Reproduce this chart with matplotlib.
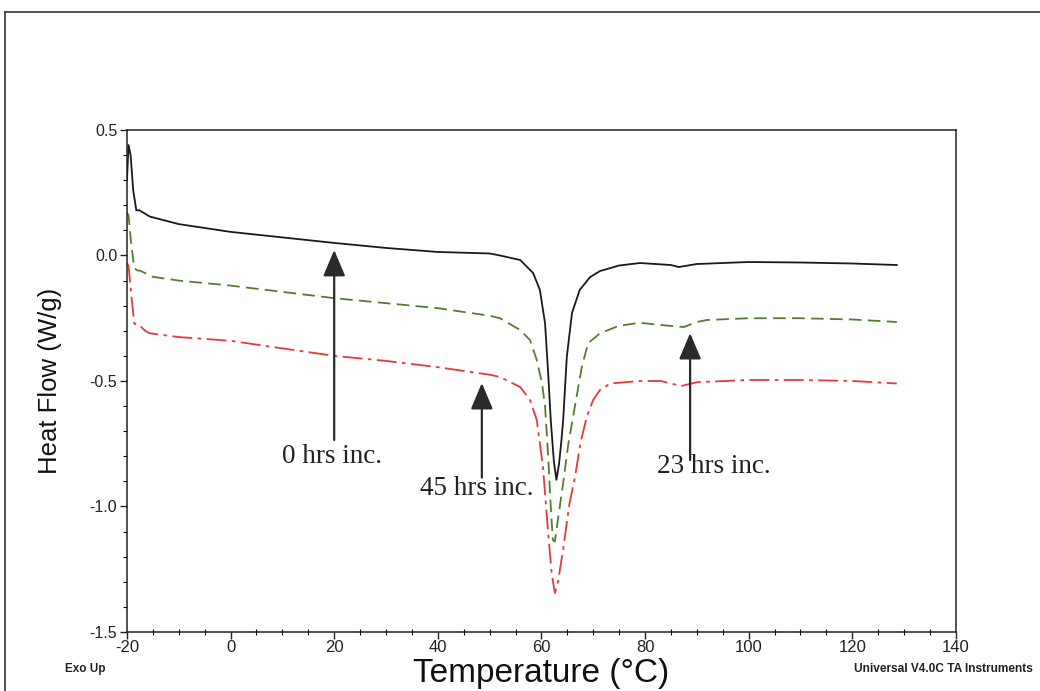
import numpy as np
import matplotlib
matplotlib.use("Agg")
import matplotlib.pyplot as plt
from matplotlib.lines import Line2D
from matplotlib.ticker import MultipleLocator

# ======= data =======
temp_0h = [-20, -19.7, -19.3, -18.8, -18.2, -17.6, -16.8, -15.6, -10, 0, 10, 20, 30, 40, 50, 52, 55.9,
           58.4, 59.7, 60.7, 61.3, 61.8, 62.4, 62.9, 63.4, 63.8, 64.2, 64.9, 65.9, 67.4, 69.4, 71.3, 75,
           79, 85, 86.5, 90, 100, 110, 120, 128.6]
hf_0h = [0.30, 0.44, 0.40, 0.26, 0.18, 0.18, 0.17, 0.155, 0.125, 0.094, 0.072, 0.05, 0.03, 0.014, 0.008,
         0.0, -0.018, -0.07, -0.137, -0.27, -0.468, -0.655, -0.82, -0.894, -0.83, -0.75, -0.655, -0.404,
         -0.229, -0.137, -0.086, -0.062, -0.04, -0.03, -0.038, -0.046, -0.034, -0.026, -0.028, -0.032, -0.038]

temp_23h = [-20, -19.7, -19.2, -18.6, -18.0, -17.5, -16.5, -15.0, -10, 0, 10, 20, 30, 40, 50, 52, 55.9,
            57.8, 59.1, 60.1, 60.7, 61.3, 61.8, 62.2, 62.6, 63.2, 64.2, 65.2, 66.3, 67.8, 69.0, 71.3, 75,
            79, 83, 87.5, 90, 92, 100, 110, 120, 128.6]
hf_23h = [0.17, 0.16, 0.05, -0.05, -0.06, -0.06, -0.07, -0.085, -0.10, -0.12, -0.145, -0.17, -0.19,
          -0.21, -0.24, -0.25, -0.297, -0.337, -0.416, -0.508, -0.60, -0.80, -1.0, -1.133, -1.14, -1.05,
          -0.906, -0.75, -0.62, -0.444, -0.35, -0.31, -0.28, -0.268, -0.277, -0.285, -0.265, -0.257,
          -0.25, -0.25, -0.255, -0.265]

temp_45h = [-20, -19.7, -19.2, -18.6, -18.0, -17.5, -16.5, -15.6, -10, 0, 10, 20, 30, 40, 50, 52, 55.9,
            57.8, 59.1, 60.3, 61.3, 62.0, 62.6, 63.2, 64.2, 65.4, 66.5, 67.6, 68.8, 70.0, 71.3, 73.3, 79,
            83, 87, 90, 100, 110, 120, 128.6]
hf_45h = [-0.03, -0.04, -0.15, -0.27, -0.28, -0.28, -0.30, -0.31, -0.325, -0.34, -0.37, -0.40, -0.42,
          -0.445, -0.475, -0.484, -0.524, -0.576, -0.655, -0.843, -1.106, -1.27, -1.345, -1.30, -1.17,
          -0.99, -0.88, -0.74, -0.64, -0.575, -0.536, -0.51, -0.50, -0.50, -0.52, -0.505, -0.496, -0.496,
          -0.50, -0.51]

labels = ["0 hrs inc.", "45 hrs inc.", "23 hrs inc."]
label_xy = [(19.6, -0.80), (47.6, -0.93), (93.3, -0.84)]
arrow_x = [20, 48.5, 88.7]
arrow_from = [-0.735, -0.885, -0.815]
arrow_to = [0.022, -0.508, -0.309]

# ======= figure =======
plt.rcParams['font.family'] = ['Liberation Sans', 'DejaVu Sans']
fig = plt.figure(figsize=(10.4, 6.91), dpi=100)
ax = fig.add_axes([0.1221, 0.0854, 0.797, 0.7265])

ax.plot(temp_0h, hf_0h, color='#1a1a1a', lw=1.3)
ax.plot(temp_23h, hf_23h, color='#4f7f2f', lw=1.3, dashes=(7, 3.5))
ax.plot(temp_45h, hf_45h, color='#e8383a', lw=1.3, dashes=(11, 3, 2, 3))

# ======= annotations =======
for lab, (tx, ty) in zip(labels, label_xy):
    ax.text(tx, ty, lab, family='Liberation Serif', fontsize=19.5, ha='center', va='center', color='#222')
for x, y0, y1 in zip(arrow_x, arrow_from, arrow_to):
    ax.annotate('', xy=(x, y1), xytext=(x, y0),
                arrowprops=dict(arrowstyle='-|>,head_length=0.9,head_width=0.38', color='#2a2a2a',
                                lw=1.6, mutation_scale=18, shrinkA=0, shrinkB=0))

# ======= axes style =======
ax.set_xlim(-20, 140)
ax.set_ylim(-1.5, 0.5)
ax.xaxis.set_minor_locator(MultipleLocator(5))
ax.yaxis.set_minor_locator(MultipleLocator(0.1))
ax.set_xticks(np.arange(-20, 141, 20))
ax.set_xticklabels([str(v) for v in range(-20, 141, 20)])
ax.set_yticks([0.5, 0.0, -0.5, -1.0, -1.5])
ax.set_yticklabels(['0.5', '0.0', '-0.5', '-1.0', '-1.5'])
ax.tick_params(axis='x', which='major', direction='out', length=5, width=1, labelsize=12, pad=1, colors='#222')
ax.tick_params(axis='x', which='minor', direction='inout', length=4, width=0.8)
ax.tick_params(axis='y', which='major', direction='out', length=5, width=1, labelsize=11.5, pad=2, colors='#222')
ax.tick_params(axis='y', which='minor', direction='out', length=3, width=0.8)
for s in ax.spines.values():
    s.set_linewidth(1.1)
    s.set_color('#222')

ax.set_xlabel('Temperature (°C)', fontsize=24, labelpad=2, color='#111')
ax.set_ylabel('Heat Flow (W/g)', fontsize=18.5, labelpad=20, color='#111')

fig.text(0.0625, 0.028, 'Exo Up', fontsize=8.5, fontweight='bold', color='#222')
fig.text(0.821, 0.028, 'Universal V4.0C TA Instruments', fontsize=8.6, fontweight='bold', color='#222')

# page frame of the scanned report
fig.add_artist(Line2D([0.005, 1.0], [0.983, 0.983], color='#444', lw=1.3))
fig.add_artist(Line2D([0.005, 0.005], [0.0, 0.983], color='#444', lw=1.3))

fig.savefig('out.png', dpi=100)
